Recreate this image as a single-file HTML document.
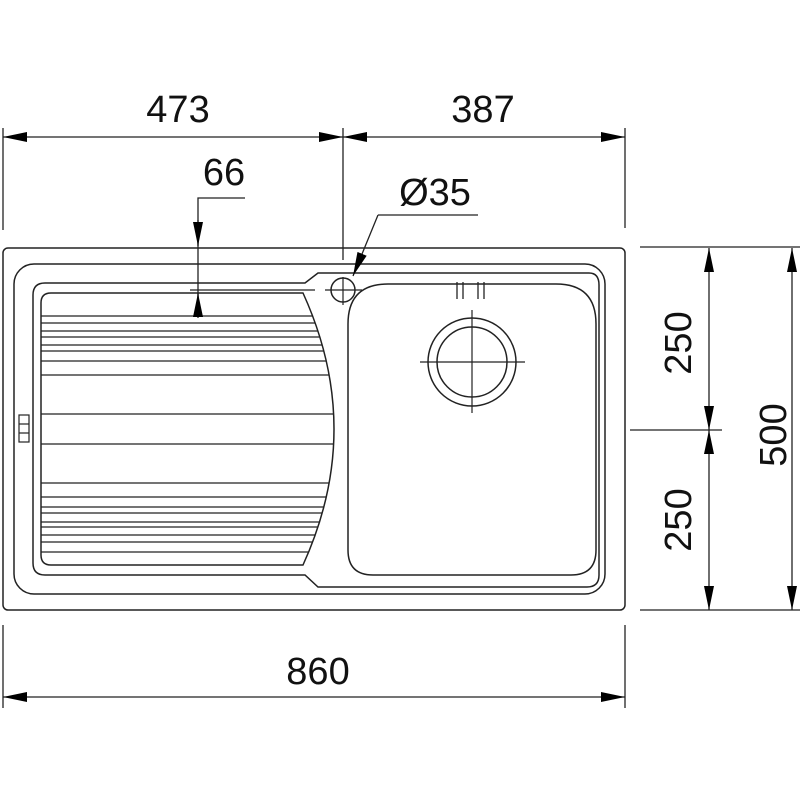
<!DOCTYPE html>
<html><head><style>html,body{margin:0;padding:0;background:#fff;}svg{display:block}</style></head>
<body>
<svg width="800" height="800" viewBox="0 0 800 800" xmlns="http://www.w3.org/2000/svg">
<defs>
<marker id="b" viewBox="0 0 24 10" refX="24" refY="5" markerWidth="24" markerHeight="10" markerUnits="userSpaceOnUse" orient="auto-start-reverse">
<path d="M0,0 L24,5 L0,10 Z" fill="#000"/></marker>
</defs>
<g fill="none" stroke="#222" stroke-width="1.5">
<rect x="3" y="248" width="622" height="362" rx="5"/>
<rect x="14" y="264" width="591" height="330" rx="20"/>
<path d="M45,283 H305 L318,273 H589 Q599,273 599,285 V575 Q599,587 587,587 H318 L305,575 H45 Q33,575 33,563 V295 Q33,283 45,283 Z"/>
<path d="M51,293 H303 Q365,429 303,565 H51 Q41,565 41,555 V303 Q41,293 51,293 Z"/>
<g stroke-width="1.3">
<line x1="41" y1="316" x2="312.6" y2="316"/>
<line x1="41" y1="323" x2="315.2" y2="323"/>
<line x1="41" y1="331" x2="317.9" y2="331"/>
<line x1="41" y1="337" x2="319.8" y2="337"/>
<line x1="41" y1="345" x2="322.2" y2="345"/>
<line x1="41" y1="351" x2="323.8" y2="351"/>
<line x1="41" y1="361" x2="326.3" y2="361"/>
<line x1="41" y1="375" x2="329.1" y2="375"/>
<line x1="41" y1="414" x2="333.6" y2="414"/>
<line x1="41" y1="444" x2="333.6" y2="444"/>
<line x1="41" y1="483" x2="329.1" y2="483"/>
<line x1="41" y1="497" x2="326.3" y2="497"/>
<line x1="41" y1="507" x2="323.8" y2="507"/>
<line x1="41" y1="513" x2="322.2" y2="513"/>
<line x1="41" y1="522" x2="319.5" y2="522"/>
<line x1="41" y1="527" x2="317.9" y2="527"/>
<line x1="41" y1="535" x2="315.2" y2="535"/>
<line x1="41" y1="542" x2="312.6" y2="542"/>
<line x1="41" y1="552" x2="308.7" y2="552"/>
</g>
<rect x="19" y="415" width="10" height="27" stroke-width="1.2"/>
<line x1="19" y1="424" x2="29" y2="424" stroke-width="1.2"/>
<line x1="19" y1="433" x2="29" y2="433" stroke-width="1.2"/>
<path d="M388,284 H556 Q596,284 596,324 V550 Q596,575 571,575 H373 Q348,575 348,550 V324 Q348,284 388,284 Z"/>
<g stroke-width="1.3">
<line x1="457" y1="282" x2="457" y2="299"/><line x1="463" y1="282" x2="463" y2="299"/>
<line x1="478" y1="282" x2="478" y2="299"/><line x1="484" y1="282" x2="484" y2="299"/>
</g>
<circle cx="472" cy="362" r="44"/>
<circle cx="472" cy="362" r="35"/>
<line x1="420" y1="362" x2="525" y2="362" stroke-width="1.2"/>
<line x1="472" y1="310" x2="472" y2="413" stroke-width="1.2"/>
<circle cx="343" cy="290" r="12"/>
<line x1="325" y1="290" x2="362" y2="290" stroke-width="1.2"/>
<line x1="343" y1="277" x2="343" y2="305" stroke-width="1.2"/>
<line x1="190" y1="290" x2="315" y2="290" stroke-width="1.2"/>
</g>
<g fill="none" stroke="#222" stroke-width="1.3">
<line x1="3" y1="128" x2="3" y2="230"/>
<line x1="343" y1="128" x2="343" y2="260"/>
<line x1="625" y1="128" x2="625" y2="228"/>
<line x1="3" y1="137" x2="343" y2="137" marker-start="url(#b)" marker-end="url(#b)"/>
<line x1="343" y1="137" x2="625" y2="137" marker-start="url(#b)" marker-end="url(#b)"/>
<polyline points="245,198 198,198 198,316" />
<line x1="198" y1="220" x2="198" y2="246" marker-end="url(#b)"/>
<line x1="198" y1="318" x2="198" y2="293" marker-end="url(#b)"/>
<line x1="378" y1="215" x2="478" y2="215"/>
<line x1="378" y1="215" x2="353" y2="276" marker-end="url(#b)"/>
<line x1="640" y1="247" x2="800" y2="247"/>
<line x1="640" y1="610" x2="800" y2="610"/>
<line x1="630" y1="430" x2="722" y2="430"/>
<line x1="709" y1="248" x2="709" y2="430" marker-start="url(#b)" marker-end="url(#b)"/>
<line x1="709" y1="430" x2="709" y2="610" marker-start="url(#b)" marker-end="url(#b)"/>
<line x1="792" y1="248" x2="792" y2="610" marker-start="url(#b)" marker-end="url(#b)"/>
<line x1="3" y1="625" x2="3" y2="708"/>
<line x1="625" y1="625" x2="625" y2="708"/>
<line x1="3" y1="697" x2="625" y2="697" marker-start="url(#b)" marker-end="url(#b)"/>
</g>
<g font-family="Liberation Sans, Arial, sans-serif" font-size="38" fill="#111" text-anchor="middle">
<text x="178" y="122">473</text>
<text x="483" y="122">387</text>
<text x="224" y="185">66</text>
<text x="435" y="205">Ø35</text>
<text x="318" y="684">860</text>
<text transform="translate(691,343) rotate(-90)">250</text>
<text transform="translate(691,520) rotate(-90)">250</text>
<text transform="translate(786,435) rotate(-90)">500</text>
</g>
</svg>
</body></html>
